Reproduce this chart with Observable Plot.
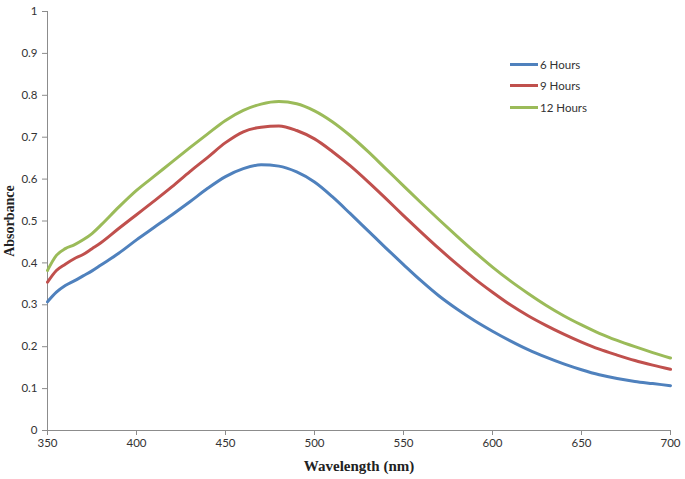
<!DOCTYPE html>
<html>
<head>
<meta charset="utf-8">
<script src="https://cdn.jsdelivr.net/npm/d3@7"></script>
<script src="https://cdn.jsdelivr.net/npm/@observablehq/plot@0.6"></script>
<style>
  html, body { margin: 0; padding: 0; background: #fff; }
  #wrap { position: relative; width: 685px; height: 479px; }
  svg { font-family: Lato, "Liberation Sans", sans-serif; }
  g[aria-label="x-axis tick label"] text, g[aria-label="y-axis tick label"] text { font-size: 11.5px; fill: #333; }
  g[aria-label="x-axis label"] text, g[aria-label="y-axis label"] text { font: bold 15px "Liberation Serif", serif; fill: #222; }
  g[aria-label="y-axis label"] text { font-size: 14px; }
  #legend { position: absolute; left: 510px; top: 53.5px; font: 11.5px Lato, "Liberation Sans", sans-serif; color: #333; }
  #legend .row { display: flex; align-items: center; height: 21.5px; }
  #legend .sw { width: 28px; height: 3px; margin-right: 2px; }
</style>
</head>
<body>
<div id="wrap"></div>
<script>
const wavelengths = [350,355,360,365,370,375,380,390,400,410,420,430,440,450,460,470,480,490,500,510,520,530,540,550,560,570,580,590,600,610,620,630,640,650,660,670,680,690,700];
const seriesNames = ["6 Hours", "9 Hours", "12 Hours"];
const seriesColors = ["#4F81BD", "#C0504D", "#9BBB59"];
const hours6  = [0.307,0.330,0.346,0.357,0.369,0.381,0.395,0.423,0.455,0.485,0.515,0.546,0.578,0.606,0.625,0.634,0.631,0.617,0.593,0.558,0.518,0.477,0.436,0.396,0.357,0.321,0.290,0.262,0.237,0.214,0.193,0.175,0.159,0.145,0.133,0.124,0.117,0.112,0.107];
const hours9  = [0.354,0.382,0.397,0.410,0.420,0.434,0.448,0.482,0.515,0.548,0.582,0.618,0.652,0.687,0.713,0.724,0.727,0.716,0.696,0.666,0.632,0.594,0.554,0.513,0.473,0.434,0.397,0.362,0.330,0.300,0.274,0.251,0.230,0.211,0.194,0.180,0.167,0.156,0.146];
const hours12 = [0.382,0.418,0.434,0.443,0.455,0.470,0.490,0.533,0.573,0.607,0.641,0.675,0.708,0.740,0.764,0.779,0.785,0.780,0.763,0.737,0.704,0.666,0.625,0.584,0.543,0.503,0.464,0.426,0.390,0.357,0.327,0.299,0.274,0.252,0.232,0.215,0.200,0.186,0.173];
const xTicks = [350,400,450,500,550,600,650,700];
const yTicks = [0,0.1,0.2,0.3,0.4,0.5,0.6,0.7,0.8,0.9,1];

const allSeries = [hours6, hours9, hours12];
const data = [];
seriesNames.forEach((name, i) => {
  wavelengths.forEach((w, j) => data.push({series: name, wavelength: w, absorbance: allSeries[i][j]}));
});

const axisGray = "#8c8c8c";
const chart = Plot.plot({
  width: 685,
  height: 479,
  marginLeft: 47,
  marginRight: 15,
  marginTop: 11,
  marginBottom: 49,
  style: {background: "#fff", overflow: "visible"},
  x: {domain: [350, 700]},
  y: {domain: [0, 1]},
  color: {domain: seriesNames, range: seriesColors},
  marks: [
    Plot.axisX({ticks: xTicks, tickSize: 5, tickPadding: 3, stroke: axisGray, tickFormat: d => String(d), label: "Wavelength (nm)", labelAnchor: "center", labelOffset: 40, labelArrow: false}),
    Plot.axisY({ticks: yTicks, tickSize: 5, tickPadding: 5, stroke: axisGray, tickFormat: d => String(+d.toFixed(1)), label: "Absorbance", labelAnchor: "center", labelOffset: 43, labelArrow: false}),
    Plot.ruleX([350], {stroke: axisGray, strokeWidth: 1}),
    Plot.ruleY([0], {stroke: axisGray, strokeWidth: 1}),
    Plot.line(data, {x: "wavelength", y: "absorbance", z: "series", stroke: "series", strokeWidth: 3, curve: "monotone-x"})
  ]
});

const wrap = document.getElementById("wrap");
wrap.appendChild(chart);

const legend = document.createElement("div");
legend.id = "legend";
seriesNames.forEach((name, i) => {
  const row = document.createElement("div");
  row.className = "row";
  const sw = document.createElement("span");
  sw.className = "sw";
  sw.style.background = seriesColors[i];
  const label = document.createElement("span");
  label.textContent = name;
  row.appendChild(sw);
  row.appendChild(label);
  legend.appendChild(row);
});
wrap.appendChild(legend);
</script>
</body>
</html>
